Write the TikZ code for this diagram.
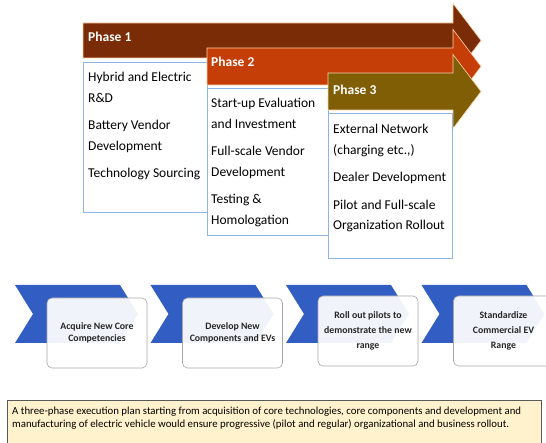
\documentclass[tikz,border=0pt]{standalone}
\usepackage{fontspec}
\setmainfont{Carlito}
\usetikzlibrary{positioning}

\definecolor{phaseone}{RGB}{122,44,6}
\definecolor{phasetwo}{RGB}{197,62,8}
\definecolor{phasethree}{RGB}{127,94,6}
\definecolor{boxblue}{RGB}{141,180,226}
\definecolor{chevblue}{RGB}{50,94,196}
\definecolor{noteyellow}{RGB}{255,242,204}

\begin{document}
\begin{tikzpicture}[x=1pt, y=-1pt,
      phasearrow/.style={draw=orange!35!white, line width=0.6pt},
      phasebox/.style={draw=boxblue, line width=0.7pt, fill=white},
      phaselabel/.style={anchor=base west, inner sep=0pt, text=white, font=\bfseries\fontsize{13.5}{16}\selectfont},
      listtext/.style={anchor=north west, inner sep=0pt, align=left, font=\fontsize{13.5}{20.5}\selectfont},
      chevron/.style={fill=chevblue},
      stepbox/.style={draw=gray!70, line width=0.6pt, rounded corners=5pt, fill=white, fill opacity=0.93, text opacity=1, minimum width=100pt, minimum height=70pt, align=center, text=black!85, font=\bfseries\fontsize{9.8}{11.5}\selectfont},
      notebox/.style={draw=black!65, line width=0.7pt, fill=noteyellow},
      notetext/.style={anchor=north west, inner sep=0pt, align=left, font=\fontsize{10.8}{12.5}\selectfont}]

      \useasboundingbox (0,0) rectangle (546,443);

      % Phase 1
      \draw[phasearrow, fill=phaseone] (83,23) -- (453,23) -- (453,3.5) -- (481,40.5) -- (453,77.5) -- (453,58) -- (83,58) -- cycle;
      \draw[phasebox] (83,62) rectangle (207,212);
      \node[phaselabel] (p1title) at (88,42) {Phase 1};
      \node[listtext] (p1list) at (88,72) {Hybrid and Electric\\R\&D\\[7pt]Battery Vendor\\Development\\[7pt]Technology Sourcing};

      % Phase 2
      \draw[phasearrow, fill=phasetwo] (207,48) -- (453,48) -- (453,29.5) -- (481,66.5) -- (453,103.5) -- (453,85) -- (207,85) -- cycle;
      \draw[phasebox] (207,88) rectangle (328,235);
      \node[phaselabel] (p2title) at (211,67) {Phase 2};
      \node[listtext] (p2list) at (211,98) {Start-up Evaluation\\and Investment\\[7pt]Full-scale Vendor\\Development\\[7pt]Testing \&\\Homologation};

      % Phase 3
      \draw[phasearrow, fill=phasethree] (328,73) -- (453,73) -- (453,54.5) -- (481,91.5) -- (453,128.5) -- (453,110) -- (328,110) -- cycle;
      \draw[phasebox] (328,113) rectangle (452,258);
      \node[phaselabel] (p3title) at (333,94.5) {Phase 3};
      \node[listtext] (p3list) at (333,124) {External Network\\(charging etc.,)\\[7pt]Dealer Development\\[7pt]Pilot and Full-scale\\Organization Rollout};

      % Chevrons behind the steps
      \foreach \i in {0,...,3} {
        \pgfmathsetmacro{\cx}{15+135.5*\i}
        \fill[chevron] (\cx,285) -- ++(105,0) -- ++(18,29) -- ++(-18,29) -- ++(-105,0) -- ++(18,-29) -- cycle;
      }

      % Steps
      \node[stepbox] (step1) at (97,333) {Acquire New Core\\Competencies};
      \node[stepbox] (step2) at (232.5,333) {Develop New\\Components and EVs};
      \node[stepbox, font=\bfseries\fontsize{9.8}{15}\selectfont] (step3) at (368,331) {Roll out pilots to\\demonstrate the new\\range};
      \node[stepbox, font=\bfseries\fontsize{9.8}{15}\selectfont] (step4) at (503.5,331) {Standardize\\Commercial EV\\Range};

      % Summary
      \draw[notebox] (7,400) rectangle (541,450);
      \node[notetext] (note) at (12,407) {A three-phase execution plan starting from acquisition of core technologies, core components and development and\\manufacturing of electric vehicle would ensure progressive (pilot and regular) organizational and business rollout.};
    \end{tikzpicture}
\end{document}
